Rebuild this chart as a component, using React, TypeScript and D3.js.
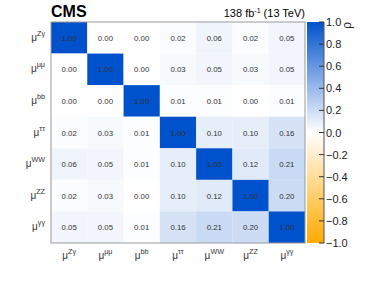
import React from "react";
import * as d3 from "d3";

// channel labels (superscripts of mu), same order on both axes
const channels = ["Zγ", "μμ", "bb", "ττ", "WW", "ZZ", "γγ"];

// correlation rows, top to bottom
const rowZg = [1.0, 0.0, 0.0, 0.02, 0.06, 0.02, 0.05];
const rowMuMu = [0.0, 1.0, 0.0, 0.03, 0.05, 0.03, 0.05];
const rowBb = [0.0, 0.0, 1.0, 0.01, 0.01, 0.0, 0.01];
const rowTauTau = [0.02, 0.03, 0.01, 1.0, 0.1, 0.1, 0.16];
const rowWW = [0.06, 0.05, 0.01, 0.1, 1.0, 0.12, 0.21];
const rowZZ = [0.02, 0.03, 0.0, 0.1, 0.12, 1.0, 0.2];
const rowGg = [0.05, 0.05, 0.01, 0.16, 0.21, 0.2, 1.0];

const colorTicks = [1.0, 0.8, 0.6, 0.4, 0.2, 0.0, -0.2, -0.4, -0.6, -0.8, -1.0];

const rows = [rowZg, rowMuMu, rowBb, rowTauTau, rowWW, rowZZ, rowGg];

const W = 374;
const H = 287;
const plot = { left: 51, top: 22, right: 305, bottom: 243 };
const bar = { left: 307, right: 324 };
const font = "'Liberation Sans', Arial, sans-serif";

export default function App() {
  const x = d3
    .scaleBand()
    .domain(channels)
    .range([plot.left, plot.right]);
  const y = d3
    .scaleBand()
    .domain(channels)
    .range([plot.top, plot.bottom]);

  // white at 0, blue towards +1, orange towards -1
  const color = d3
    .scaleLinear<string>()
    .domain([-1, 0, 1])
    .range(["#ffaa00", "#ffffff", "#0052cc"])
    .interpolate(d3.interpolateRgb);

  const z = d3.scaleLinear().domain([-1, 1]).range([plot.bottom, plot.top]);

  const cells = [];
  rows.forEach((row, i) => {
    row.forEach((v, j) => {
      cells.push({ r: channels[i], c: channels[j], v });
    });
  });

  const fmt = d3.format(".2f");
  const tickFmt = (v: number) => (v < 0 ? "\u2212" + d3.format(".1f")(-v) : d3.format(".1f")(v));

  const Mu = ({ label, size }: { label: string; size: number }) => (
    <>
      {"μ"}
      <tspan dy={-5} fontSize={size * 0.72}>
        {label}
      </tspan>
    </>
  );

  return (
    <svg
      width={W}
      height={H}
      style={{ position: "absolute", left: 0, top: 0, fontFamily: font }}
    >
      <defs>
        <linearGradient id="cbar" x1="0" y1="1" x2="0" y2="0">
          {d3.range(0, 1.0001, 0.1).map((t) => (
            <stop key={t} offset={t} stopColor={color(-1 + 2 * t)} />
          ))}
        </linearGradient>
      </defs>

      {cells.map((d, k) => (
        <rect
          key={k}
          x={x(d.c)}
          y={y(d.r)}
          width={x.bandwidth()}
          height={y.bandwidth()}
          fill={color(d.v)}
        />
      ))}
      {cells.map((d, k) => (
        <text
          key={"t" + k}
          x={x(d.c)! + x.bandwidth() / 2}
          y={y(d.r)! + y.bandwidth() / 2 + 3}
          textAnchor="middle"
          fontSize={7.8}
          fill="#333"
        >
          {fmt(d.v)}
        </text>
      ))}

      <rect
        x={plot.left}
        y={plot.top}
        width={plot.right - plot.left}
        height={plot.bottom - plot.top}
        fill="none"
        stroke="#999"
        strokeWidth={1}
      />

      {/* y axis labels */}
      {channels.map((c) => (
        <text
          key={"y" + c}
          x={45}
          y={y(c)! + y.bandwidth() / 2 + 3}
          textAnchor="end"
          fontSize={10}
          fill="#333"
        >
          <Mu label={c} size={10} />
        </text>
      ))}

      {/* x axis labels */}
      {channels.map((c) => (
        <text
          key={"x" + c}
          x={x(c)! + x.bandwidth() / 2}
          y={259}
          textAnchor="middle"
          fontSize={10}
          fill="#333"
        >
          <Mu label={c} size={10} />
        </text>
      ))}

      {/* colour bar */}
      <rect
        x={bar.left}
        y={plot.top}
        width={bar.right - bar.left}
        height={plot.bottom - plot.top}
        fill="url(#cbar)"
      />
      <line x1={bar.right} x2={bar.right} y1={plot.top} y2={plot.bottom} stroke="#555" />
      {colorTicks.map((t) => (
        <g key={"c" + t}>
          <line x1={bar.right - 5} x2={bar.right} y1={z(t)} y2={z(t)} stroke="#333" />
          <text x={bar.right + 2} y={z(t) + 4} fontSize={11} fill="#222">
            {tickFmt(t)}
          </text>
        </g>
      ))}
      <text
        transform={`translate(351,22) rotate(-90)`}
        textAnchor="end"
        fontSize={12}
        fill="#222"
      >
        ρ
      </text>

      <text x={51} y={17} fontSize={16} fontWeight="bold" fill="#000">
        CMS
      </text>
      <text x={305} y={17} textAnchor="end" fontSize={11} fill="#000">
        138 fb
        <tspan dy={-4} fontSize={7}>
          -1
        </tspan>
        <tspan dy={4}> (13 TeV)</tspan>
      </text>
    </svg>
  );
}
